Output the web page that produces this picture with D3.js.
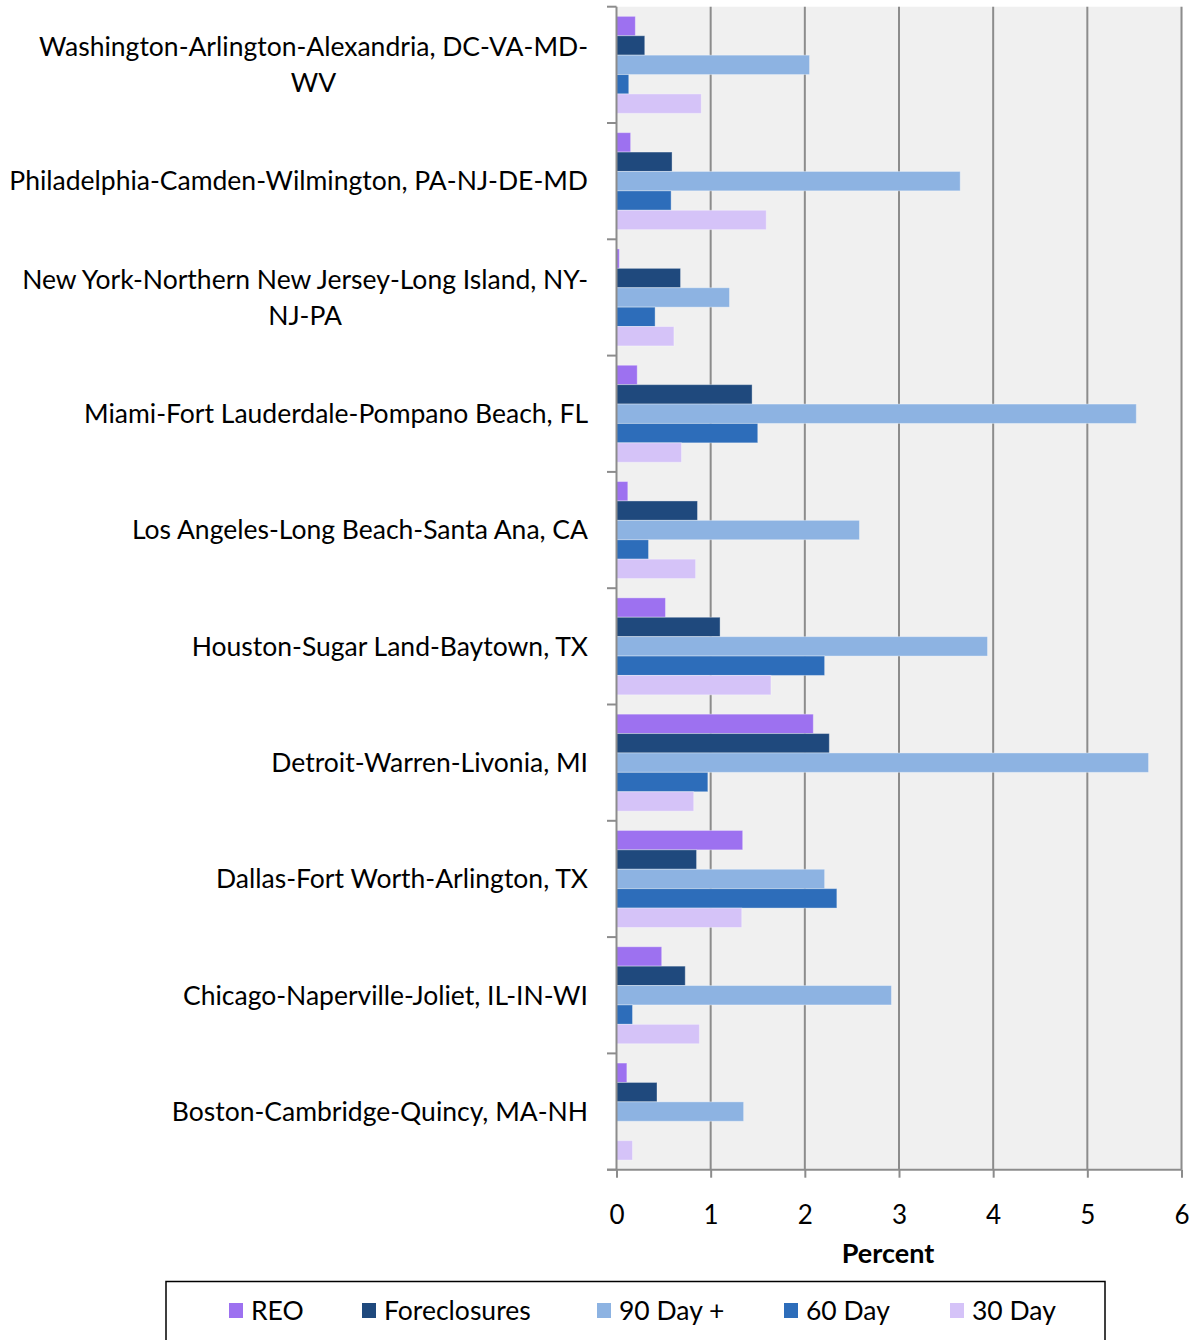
<!DOCTYPE html>
<html><head><meta charset="utf-8">
<script src="https://cdn.jsdelivr.net/npm/d3@7"></script>
<style>
html,body{margin:0;padding:0;background:#fff;}
svg{display:block;font-family:Lato,"Open Sans",sans-serif;}
</style></head>
<body>
<svg id="chart" width="1194" height="1340"></svg>
<script>
const categories = [
  "Washington-Arlington-Alexandria, DC-VA-MD-WV",
  "Philadelphia-Camden-Wilmington, PA-NJ-DE-MD",
  "New York-Northern New Jersey-Long Island, NY-NJ-PA",
  "Miami-Fort Lauderdale-Pompano Beach, FL",
  "Los Angeles-Long Beach-Santa Ana, CA",
  "Houston-Sugar Land-Baytown, TX",
  "Detroit-Warren-Livonia, MI",
  "Dallas-Fort Worth-Arlington, TX",
  "Chicago-Naperville-Joliet, IL-IN-WI",
  "Boston-Cambridge-Quincy, MA-NH"
];
const labelLines = [
  ["Washington-Arlington-Alexandria, DC-VA-MD-", "WV"],
  ["Philadelphia-Camden-Wilmington, PA-NJ-DE-MD"],
  ["New York-Northern New Jersey-Long Island, NY-", "NJ-PA"],
  ["Miami-Fort Lauderdale-Pompano Beach, FL"],
  ["Los Angeles-Long Beach-Santa Ana, CA"],
  ["Houston-Sugar Land-Baytown, TX"],
  ["Detroit-Warren-Livonia, MI"],
  ["Dallas-Fort Worth-Arlington, TX"],
  ["Chicago-Naperville-Joliet, IL-IN-WI"],
  ["Boston-Cambridge-Quincy, MA-NH"]
];
const seriesNames = ["REO", "Foreclosures", "90 Day +", "60 Day", "30 Day"];
const seriesColors = ["#9d71f0", "#1f497d", "#8db3e2", "#2d6dba", "#d5c3f8"];
const reo          = [0.20, 0.15, 0.03, 0.22, 0.12, 0.52, 2.09, 1.34, 0.48, 0.11];
const foreclosures = [0.30, 0.59, 0.68, 1.44, 0.86, 1.10, 2.26, 0.85, 0.73, 0.43];
const day90        = [2.05, 3.65, 1.20, 5.52, 2.58, 3.94, 5.65, 2.21, 2.92, 1.35];
const day60        = [0.13, 0.58, 0.41, 1.50, 0.34, 2.21, 0.97, 2.34, 0.17, 0.00];
const day30        = [0.90, 1.59, 0.61, 0.69, 0.84, 1.64, 0.82, 1.33, 0.88, 0.17];
const seriesValues = [reo, foreclosures, day90, day60, day30];
const xTicks = [0, 1, 2, 3, 4, 5, 6];
const xTitle = "Percent";

(function () {
const svg = d3.select("#chart");
const pLeft = 616.5, pRight = 1181.5, pTop = 6.7, pBottom = 1169.7;

const x = d3.scaleLinear().domain([0, 6]).range([pLeft, pRight]);
const y = d3.scaleBand().domain(categories).range([pTop, pBottom]).paddingInner(0.166).paddingOuter(0.083);
const ys = d3.scaleBand().domain(seriesNames).range([0, y.bandwidth()]);

svg.append("rect").attr("x", pLeft).attr("y", pTop).attr("width", pRight - pLeft + 1).attr("height", pBottom - pTop).attr("fill", "#f0f0f0");

svg.append("g").selectAll("line").data(xTicks.filter(d => d > 0)).join("line")
  .attr("x1", d => x(d)).attr("x2", d => x(d)).attr("y1", pTop).attr("y2", pBottom)
  .attr("stroke", "#8c8c8c").attr("stroke-width", 2);

const rows = categories.map((c, i) => ({cat: c, vals: seriesValues.map((s, j) => ({name: seriesNames[j], color: seriesColors[j], v: s[i]}))}));
const g = svg.append("g").selectAll("g").data(rows).join("g")
  .attr("transform", d => `translate(0,${y(d.cat)})`);
g.selectAll("rect").data(d => d.vals.filter(v => v.v > 0)).join("rect")
  .attr("x", x(0)).attr("y", d => ys(d.name))
  .attr("width", d => x(d.v) - x(0)).attr("height", ys.bandwidth())
  .attr("fill", d => d.color)
  .attr("stroke", "rgba(255,255,255,0.35)").attr("stroke-width", 1);

const bounds = d3.range(categories.length + 1).map(i => pTop + i * y.step());
svg.append("line").attr("x1", pLeft).attr("x2", pLeft).attr("y1", pTop).attr("y2", pBottom).attr("stroke", "#8c8c8c").attr("stroke-width", 2);
svg.append("g").selectAll("line").data(bounds).join("line")
  .attr("x1", 607).attr("x2", pLeft).attr("y1", d => d).attr("y2", d => d)
  .attr("stroke", "#8c8c8c").attr("stroke-width", 2);

const xAxis = d3.axisBottom(x).tickValues(xTicks).tickSize(8).tickPadding(28).tickFormat(d3.format("d"));
const xg = svg.append("g").attr("transform", `translate(0,${pBottom})`).call(xAxis);
xg.select(".domain").attr("stroke", "#8c8c8c").attr("stroke-width", 2).attr("d", `M607,0H${pRight}`);
xg.selectAll(".tick line").attr("stroke", "#8c8c8c").attr("stroke-width", 2);
xg.selectAll(".tick text").attr("font-size", 26).attr("font-family", "Lato").attr("fill", "#000");

svg.append("text").attr("x", 888).attr("y", 1263).attr("text-anchor", "middle")
  .attr("font-size", 27).attr("font-weight", "bold").text(xTitle);

const labelFont = 26.5;
const lg = svg.append("g");
categories.forEach((c, i) => {
  const lines = labelLines[i];
  const grp = lg.append("g");
  const lh = 36;
  const cy = y(c) + y.bandwidth() / 2;
  lines.forEach((ln, k) => {
    grp.append("text").attr("text-anchor", "middle").attr("font-size", labelFont)
      .attr("x", 0).attr("y", cy + (k - (lines.length - 1) / 2) * lh).attr("dy", "0.35em").text(ln);
  });
  const w = d3.max(grp.selectAll("text").nodes(), n => n.getComputedTextLength());
  grp.attr("transform", `translate(${588 - w / 2},0)`);
});

svg.append("rect").attr("x", 166).attr("y", 1281.5).attr("width", 939).attr("height", 70)
  .attr("fill", "none").attr("stroke", "#000").attr("stroke-width", 1.5);
const legendX = [229, 362, 597, 784, 950];
const leg = svg.append("g").selectAll("g").data(seriesNames).join("g")
  .attr("transform", (d, i) => `translate(${legendX[i]},1303)`);
leg.append("rect").attr("width", 14).attr("height", 15).attr("fill", (d, i) => seriesColors[i]);
leg.append("text").attr("x", 22).attr("y", 8).attr("dy", "0.35em").attr("font-size", 26.5).text(d => d);
})();
</script>
</body></html>
